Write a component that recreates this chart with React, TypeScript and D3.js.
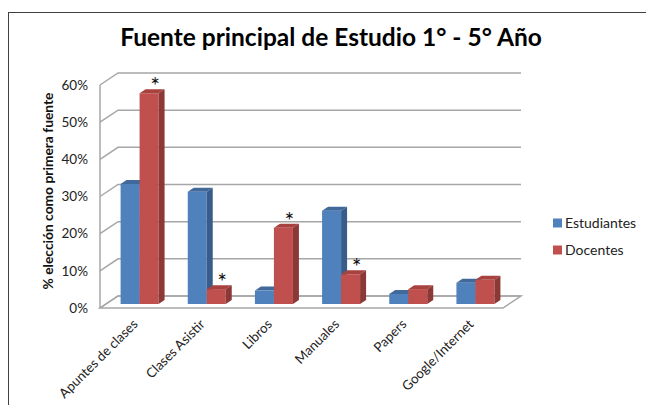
import React, { useEffect, useRef } from 'react';
import * as d3 from 'd3';

const categories = ["Apuntes de clases", "Clases Asistir", "Libros", "Manuales", "Papers", "Google/Internet"];
const estudiantes = [32.3, 30.2, 3.6, 25.1, 2.7, 5.7];
const docentes = [56.7, 4.0, 20.5, 8.0, 4.0, 6.5];
const starred = [true, true, true, true, false, false];
const yTicks = [0, 10, 20, 30, 40, 50, 60];
const seriesNames = ["Estudiantes", "Docentes"];

const FONT = "Lato, 'Open Sans', sans-serif";

const palette = {
  Estudiantes: { front: "#4f81bd", top: "#41699c", side: "#385d8a" },
  Docentes: { front: "#c0504d", top: "#a8423f", side: "#8c3836" },
};

export default function App() {
  const ref = useRef<SVGSVGElement>(null);
  const width = 646;
  const height = 405;

  useEffect(() => {
    const svg = d3.select(ref.current);
    svg.selectAll("*").remove();

    // frame
    svg.append("rect")
      .attr("x", 8.5).attr("y", 12.5)
      .attr("width", 700).attr("height", 500)
      .attr("fill", "#fff")
      .attr("stroke", "#404040")
      .attr("stroke-width", 1);

    const x = d3.scaleBand().domain(categories).range([100, 503]);
    const y = d3.scaleLinear().domain([0, 60]).range([308, 85]);

    const wdx = 18, wdy = -12; // wall depth
    const bdx = 6, bdy = -4; // bar plane offset and bar depth
    const grid = "#a6a6a6";

    const walls = svg.append("g");
    // floor
    walls.append("path")
      .attr("d", `M100,${y(0)} L503,${y(0)} L${503 + wdx},${y(0) + wdy} L${100 + wdx},${y(0) + wdy} Z`)
      .attr("fill", "#fff").attr("stroke", grid).attr("stroke-width", 1.5);
    // left wall front edge
    walls.append("line")
      .attr("x1", 100).attr("x2", 100)
      .attr("y1", y(60)).attr("y2", y(0))
      .attr("stroke", grid).attr("stroke-width", 1.5);
    // gridlines
    walls.selectAll("path.grid")
      .data(yTicks)
      .join("path")
      .attr("class", "grid")
      .attr("fill", "none")
      .attr("stroke", grid)
      .attr("stroke-width", 1.5)
      .attr("d", d => `M100,${y(d)} L${100 + wdx},${y(d) + wdy} L${503 + wdx},${y(d) + wdy}`);

    // y tick labels
    svg.append("g").selectAll("text")
      .data(yTicks)
      .join("text")
      .attr("x", 88)
      .attr("y", d => y(d))
      .attr("dy", "0.35em")
      .attr("text-anchor", "end")
      .attr("font-family", FONT)
      .attr("font-size", 13.5)
      .attr("fill", "#222")
      .text(d => d + "%");

    // y axis title
    svg.append("text")
      .attr("transform", `translate(48,191) rotate(-90)`)
      .attr("dy", "0.35em")
      .attr("text-anchor", "middle")
      .attr("font-family", FONT)
      .attr("font-weight", "bold")
      .attr("font-size", 13.8)
      .attr("fill", "#111")
      .text("% elección como primera fuente");

    // bars
    const bw = 19;
    const bars = svg.append("g");
    categories.forEach((c, i) => {
      const cx = x(c)! + x.bandwidth() / 2 + bdx;
      [estudiantes[i], docentes[i]].forEach((v, j) => {
        const col = palette[seriesNames[j] as keyof typeof palette];
        const x0 = cx - bw + j * bw;
        const x1 = x0 + bw;
        const yb = y(0) + bdy;
        const yt = y(v) + bdy;
        bars.append("rect")
          .attr("x", x0).attr("y", yt)
          .attr("width", bw).attr("height", yb - yt)
          .attr("fill", col.front);
        bars.append("path")
          .attr("d", `M${x0},${yt} L${x0 + bdx},${yt + bdy} L${x1 + bdx},${yt + bdy} L${x1},${yt} Z`)
          .attr("fill", col.top);
        bars.append("path")
          .attr("d", `M${x1},${yt} L${x1 + bdx},${yt + bdy} L${x1 + bdx},${yb + bdy} L${x1},${yb} Z`)
          .attr("fill", col.side);
      });
      if (starred[i]) {
        svg.append("text")
          .attr("x", cx + bw / 2 + bdx)
          .attr("y", y(docentes[i]) + bdy + 1)
          .attr("text-anchor", "middle")
          .attr("font-family", FONT)
          .attr("font-size", 23)
          .attr("fill", "#111")
          .text("*");
      }
    });

    // category labels
    svg.append("g").selectAll("text")
      .data(categories)
      .join("text")
      .attr("transform", d => `translate(${x(d)! + x.bandwidth() / 2 + 5},325) rotate(-45)`)
      .attr("text-anchor", "end")
      .attr("font-family", FONT)
      .attr("font-size", 13.3)
      .attr("fill", "#222")
      .text(d => d);

    // legend
    const legend = svg.append("g").attr("transform", "translate(553,223)");
    legend.selectAll("rect")
      .data(seriesNames)
      .join("rect")
      .attr("x", 0)
      .attr("y", (d, i) => i * 27 - 4.5)
      .attr("width", 9).attr("height", 9)
      .attr("fill", d => palette[d as keyof typeof palette].front);
    legend.selectAll("text")
      .data(seriesNames)
      .join("text")
      .attr("x", 12)
      .attr("y", (d, i) => i * 27)
      .attr("dy", "0.35em")
      .attr("font-family", FONT)
      .attr("font-size", 14)
      .attr("fill", "#222")
      .text(d => d);

    // title
    svg.append("text")
      .attr("x", 331)
      .attr("y", 46)
      .attr("text-anchor", "middle")
      .attr("font-family", FONT)
      .attr("font-weight", "bold")
      .attr("font-size", 24.5)
      .attr("fill", "#000")
      .text("Fuente principal de Estudio 1° - 5° Año");
  }, []);

  return (
    <svg ref={ref} width={width} height={height}
      style={{ position: "absolute", left: 0, top: 0, background: "#fff" }} />
  );
}
